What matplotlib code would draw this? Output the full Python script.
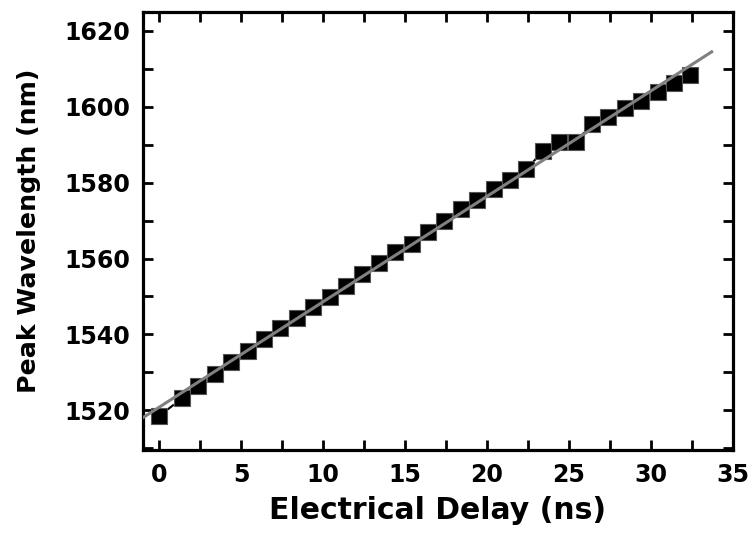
import matplotlib
matplotlib.use("Agg")
from matplotlib import pyplot as plt
from matplotlib.ticker import MultipleLocator

# measured peaks
delay_ns = [0.0, 1.4, 2.4, 3.4, 4.4, 5.4, 6.4, 7.4, 8.4, 9.4, 10.4, 11.4,
            12.4, 13.4, 14.4, 15.4, 16.4, 17.4, 18.4, 19.4, 20.4, 21.4, 22.4,
            23.4, 24.4, 25.4, 26.4, 27.4, 28.4, 29.4, 30.4, 31.4, 32.4]
peak_nm = [1518.4, 1523.2, 1526.5, 1529.6, 1532.8, 1535.6, 1538.8, 1541.6,
           1544.4, 1547.1, 1549.9, 1552.8, 1555.9, 1558.7, 1561.6, 1563.9,
           1567.0, 1569.8, 1573.1, 1575.5, 1578.3, 1580.6, 1583.5, 1588.3,
           1590.8, 1590.8, 1595.4, 1597.2, 1599.6, 1601.6, 1603.9, 1606.4,
           1608.4]

# linear fit, end points
fit_x = [-1.0, 33.7]
fit_y = [1518.0, 1614.5]

plt.rcParams['font.family'] = ['DejaVu Sans']
plt.rcParams['font.weight'] = 'bold'

fig = plt.figure(figsize=(7.54, 5.39), dpi=100)
ax = fig.add_axes([0.1893, 0.1651, 0.9721 - 0.1893, 0.9777 - 0.1651])

ax.plot(delay_ns, peak_nm, color='black', linestyle='--', linewidth=1.5,
        marker='s', markersize=11.5, markerfacecolor='black',
        markeredgecolor='#555555', markeredgewidth=0.8, zorder=2)
ax.plot(fit_x, fit_y, color='#808080', linewidth=2.2, zorder=3)

ax.set_xlim(-1, 35)
ax.set_ylim(1509.5, 1625)
ax.xaxis.set_major_locator(MultipleLocator(5))
ax.xaxis.set_minor_locator(MultipleLocator(2.5))
ax.yaxis.set_major_locator(MultipleLocator(20))
ax.yaxis.set_minor_locator(MultipleLocator(10))

for s in ax.spines.values():
    s.set_linewidth(2.3)
ax.tick_params(which='both', direction='in', top=True, right=True,
               length=7.5, width=2.0)
ax.tick_params(which='major', labelsize=17, pad=9)

ax.set_xlabel("Electrical Delay (ns)", fontsize=21.5, fontweight='bold', labelpad=7)
ax.set_ylabel("Peak Wavelength (nm)", fontsize=18.2, fontweight='bold', labelpad=17)

fig.savefig("out.png", dpi=100)
